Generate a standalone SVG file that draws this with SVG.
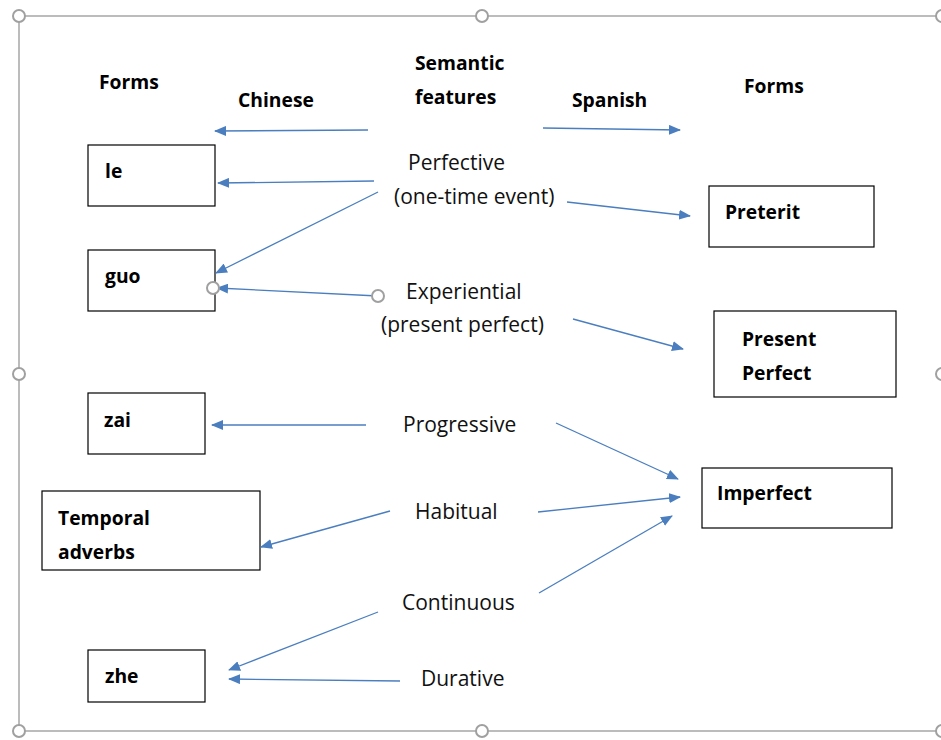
<svg xmlns="http://www.w3.org/2000/svg" width="941" height="740" viewBox="0 0 941 740">
<defs>
<marker id="ah" viewBox="0 0 12 10" refX="11" refY="5" markerWidth="12" markerHeight="10" markerUnits="userSpaceOnUse" orient="auto">
<path d="M0,0 L12,5 L0,10 Z" fill="#4a7ebf"/>
</marker>
<style>
.frame{fill:none;stroke:#a6a6a6;stroke-width:1.5}
.h{fill:#fff;stroke:#a0a0a0;stroke-width:2}
.box{fill:#fff;stroke:#000;stroke-width:1.2}
.b{font-family:"Open Sans","Liberation Sans",sans-serif;font-weight:bold;font-size:19.3px;fill:#000}
.n{font-family:"Open Sans","Liberation Sans",sans-serif;font-size:21px;fill:#111}
.c{fill:none;stroke:#4a7ebf;stroke-width:1.3;marker-end:url(#ah)}
</style>
</defs>
<rect width="941" height="740" fill="#fff"/>
<g id="frame">
<rect class="frame" x="19" y="16" width="960" height="715"/>
</g>
<g id="headers">
<text class="b" x="99" y="89">Forms</text>
<text class="b" x="238" y="107">Chinese</text>
<text class="b" x="415" y="70">Semantic</text>
<text class="b" x="415" y="104">features</text>
<text class="b" x="572" y="107">Spanish</text>
<text class="b" x="744" y="93">Forms</text>
</g>
<g id="node-le"><rect class="box" x="88" y="145" width="127" height="61"/><text class="b" x="105" y="178">le</text></g>
<g id="node-guo"><rect class="box" x="88" y="250" width="127" height="61"/><text class="b" x="105" y="283">guo</text></g>
<g id="node-zai"><rect class="box" x="88" y="393" width="117" height="61"/><text class="b" x="104" y="427">zai</text></g>
<g id="node-temporal"><rect class="box" x="42" y="491" width="218" height="79"/><text class="b" x="58" y="525">Temporal</text><text class="b" x="58" y="559">adverbs</text></g>
<g id="node-zhe"><rect class="box" x="88" y="650" width="117" height="52"/><text class="b" x="105" y="683">zhe</text></g>
<g id="node-preterit"><rect class="box" x="709" y="186" width="165" height="61"/><text class="b" x="725" y="219">Preterit</text></g>
<g id="node-presperf"><rect class="box" x="714" y="311" width="182" height="86"/><text class="b" x="742" y="346">Present</text><text class="b" x="742" y="380">Perfect</text></g>
<g id="node-imperfect"><rect class="box" x="702" y="468" width="190" height="60"/><text class="b" x="717" y="500">Imperfect</text></g>
<g id="features">
<text class="n" x="408" y="170">Perfective</text>
<text class="n" x="394" y="204">(one-time event)</text>
<text class="n" x="406" y="299">Experiential</text>
<text class="n" x="381" y="332">(present perfect)</text>
<text class="n" x="403" y="432">Progressive</text>
<text class="n" x="415" y="519">Habitual</text>
<text class="n" x="402" y="610">Continuous</text>
<text class="n" x="421" y="686">Durative</text>
</g>
<g id="connectors">
<line class="c" x1="368" y1="130" x2="215" y2="131"/>
<line class="c" x1="543" y1="128" x2="680" y2="130"/>
<line class="c" x1="374" y1="181" x2="218" y2="183"/>
<line class="c" x1="378" y1="192" x2="216" y2="273"/>
<line class="c" x1="378" y1="296" x2="217" y2="288"/>
<line class="c" x1="567" y1="202" x2="690" y2="216"/>
<line class="c" x1="573" y1="319" x2="683" y2="349"/>
<line class="c" x1="366" y1="425" x2="212" y2="425"/>
<line class="c" x1="556" y1="423" x2="678" y2="479"/>
<line class="c" x1="390" y1="511" x2="261" y2="547"/>
<line class="c" x1="538" y1="512" x2="680" y2="497"/>
<line class="c" x1="539" y1="593" x2="672" y2="516"/>
<line class="c" x1="378" y1="612" x2="229" y2="670"/>
<line class="c" x1="400" y1="681" x2="229" y2="679"/>
</g>
<g id="handles">
<circle class="h" cx="19" cy="16" r="6"/>
<circle class="h" cx="482" cy="16" r="6"/>
<circle class="h" cx="942" cy="16" r="6"/>
<circle class="h" cx="19" cy="374" r="6"/>
<circle class="h" cx="942" cy="374" r="6"/>
<circle class="h" cx="19" cy="731" r="6"/>
<circle class="h" cx="482" cy="731" r="6"/>
<circle class="h" cx="942" cy="731" r="6"/>
<circle class="h" cx="213" cy="288" r="6"/>
<circle class="h" cx="378" cy="296" r="6"/>
</g>
</svg>
